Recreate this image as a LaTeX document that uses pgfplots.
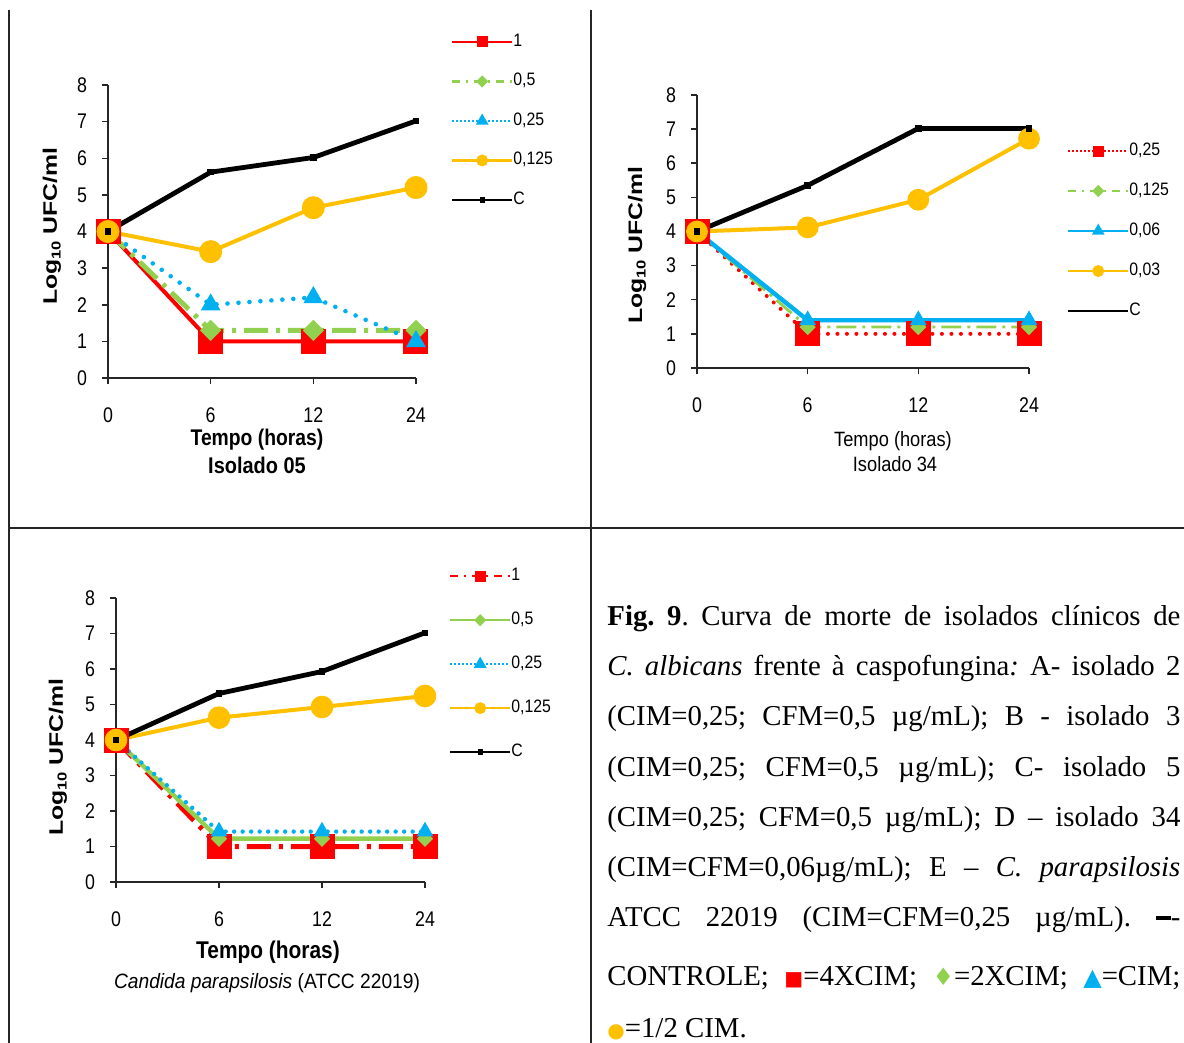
\documentclass[border=0pt]{standalone}
\usepackage{pgfplots}
\pgfplotsset{compat=1.18}
\usepackage{fontspec}
\usepackage{graphicx}
\setmainfont{Liberation Serif}
\newfontfamily\arial{Liberation Sans}
\newfontfamily\arialn[FakeStretch=0.88]{Liberation Sans}
\newfontfamily\arialt[FakeStretch=0.84]{Liberation Sans}
\newfontfamily\sym{DejaVu Sans}
\definecolor{cRed}{HTML}{FF0000}
\definecolor{cGreen}{HTML}{92D050}
\definecolor{cCyan}{HTML}{00B0F0}
\definecolor{cGold}{HTML}{FFC000}
\newcommand\tickfont{\arialt\fontsize{10.6}{11}\selectfont}

\pgfplotsset{
  kc/.style={
    scale only axis,
    xmin=0, xmax=3, ymin=0, ymax=8,
    axis x line*=bottom, axis y line*=left,
    axis line style={-, line width=0.75pt, black!85},
    xtick={0,1,2,3}, xticklabels={0,6,12,24},
    ytick={0,1,2,3,4,5,6,7,8},
    tick align=outside,
    major tick length=3pt,
    tick style={line width=0.75pt, black!85},
    /pgf/number format/assume math mode=true,
    tick label style={font=\tickfont},
    xticklabel style={font=\tickfont, anchor=center, yshift=-15.5pt},
    yticklabel style={font=\tickfont, anchor=center, xshift=-10pt},
    clip=false,
    legend style={draw=none, fill=none, inner sep=0pt, outer sep=0pt, anchor=north west,
       font=\arialn\fontsize{9}{9}\selectfont,
       nodes={inner sep=0pt, text height=6.5pt, text depth=2pt},
       /tikz/every even column/.append style={column sep=5pt}},
    legend cell align=left,
    legend image code/.code={\draw[mark repeat=2,mark phase=2] plot coordinates {(0pt,0pt) (15pt,0pt) (30pt,0pt)};},
  },
}

\begin{document}
\begin{tikzpicture}
\useasboundingbox (0pt,0pt) rectangle (592pt,-521.5pt);

% frame lines
\draw[line width=1.2pt, black!85] (4.5pt,-5pt) -- (4.5pt,-521.5pt);
\draw[line width=1.2pt, black!85] (295.5pt,-5pt) -- (295.5pt,-521.5pt);
\draw[line width=1.2pt, black!85] (4.5pt,-264pt) -- (592pt,-264pt);

% ---------------- Chart A: Isolado 05 ----------------
\begin{axis}[kc, at={(54pt,-189pt)}, anchor=origin, width=154pt, height=146.5pt,
  legend style={at={(rel axis cs:1.114,1.176)}, row sep=11.25pt}]
\addlegendimage{cRed, line width=1.1pt, mark=square*, mark size=2.2pt, mark options={solid}}
\addlegendentry{1}
\addlegendimage{cGreen, line width=1.1pt, dash pattern=on 4pt off 3pt on 1pt off 3pt, mark=square*, mark size=1.6pt, mark options={solid, rotate=45}}
\addlegendentry{0,5}
\addlegendimage{cCyan, line width=1.1pt, dash pattern=on 1pt off 1pt, mark=triangle*, mark size=2.6pt, mark options={solid}}
\addlegendentry{0,25}
\addlegendimage{cGold, line width=1.1pt, mark=*, mark size=2.4pt, mark options={solid}}
\addlegendentry{0,125}
\addlegendimage{black, line width=1.1pt, mark=square*, mark size=0.8pt, mark options={solid}}
\addlegendentry{C}

\addplot[cRed, line width=2pt, mark=square*, mark size=6pt, mark options={solid, line width=0.5pt}, forget plot]
  coordinates {(0,4) (1,1) (2,1) (3,1)};
\addplot[cGreen, line width=2.5pt, dash pattern=on 12pt off 4pt on 2pt off 4pt, mark=square*, mark size=3.5pt, mark options={solid, rotate=45, line width=0.5pt}, forget plot]
  coordinates {(0,4) (1,1.3) (2,1.3) (3,1.3)};
\addplot[cCyan, line width=2.3pt, line cap=round, dash pattern=on 0pt off 5.5pt, mark=triangle*, mark size=5.2pt, mark options={solid, line width=0.5pt}, forget plot]
  coordinates {(0,4) (1,2.0) (2,2.2) (3,1.0)};
\addplot[cGold, line width=2pt, mark=*, mark size=5.5pt, mark options={solid, line width=0.5pt}, forget plot]
  coordinates {(0,4) (1,3.45) (2,4.65) (3,5.2)};
\addplot[black, line width=2.4pt, mark=square*, mark size=1.4pt, mark options={solid, line width=0.5pt}, forget plot]
  coordinates {(0,4) (1,5.62) (2,6.02) (3,7.02)};
\end{axis}

\node[rotate=90, inner sep=0pt] at (26pt,-113pt) {\scalebox{1.27}[1]{\arial\bfseries\fontsize{9.75}{10}\selectfont Log\raisebox{-0.35ex}{\fontsize{6.5}{7}\selectfont 10} UFC/ml}};
\node[inner sep=0pt] at (128.5pt,-220pt) {\scalebox{0.92}[1.08]{\arial\bfseries\fontsize{10.5}{11}\selectfont Tempo (horas)}};
\node[inner sep=0pt] at (128.5pt,-232.5pt) {\scalebox{0.95}[1.08]{\arial\bfseries\fontsize{10.5}{11}\selectfont Isolado 05}};

% ---------------- Chart B: Isolado 34 ----------------
\begin{axis}[kc, at={(348.5pt,-184pt)}, anchor=origin, width=166pt, height=136.5pt,
  legend style={at={(rel axis cs:1.115,0.826)}, row sep=11.5pt}]
\addlegendimage{cRed, line width=1.1pt, dash pattern=on 1pt off 1pt, mark=square*, mark size=2.2pt, mark options={solid}}
\addlegendentry{0,25}
\addlegendimage{cGreen, line width=1.1pt, dash pattern=on 4pt off 3pt on 1pt off 3pt, mark=square*, mark size=1.6pt, mark options={solid, rotate=45}}
\addlegendentry{0,125}
\addlegendimage{cCyan, line width=1.1pt, mark=triangle*, mark size=2.6pt, mark options={solid}}
\addlegendentry{0,06}
\addlegendimage{cGold, line width=1.1pt, mark=*, mark size=2.4pt, mark options={solid}}
\addlegendentry{0,03}
\addlegendimage{black, line width=1.1pt}
\addlegendentry{C}

\addplot[cRed, line width=2pt, line cap=round, dash pattern=on 0pt off 4.75pt, mark=square*, mark size=6pt, mark options={solid, line width=0.5pt}, forget plot]
  coordinates {(0,4) (1,1) (2,1) (3,1)};
\addplot[cGreen, line width=1.4pt, dash pattern=on 10pt off 3pt on 1.5pt off 3pt, mark=square*, mark size=2.6pt, mark options={solid, rotate=45, line width=0.5pt}, forget plot]
  coordinates {(0,4) (1,1.2) (2,1.2) (3,1.2)};
\addplot[cCyan, line width=2.2pt, mark=triangle*, mark size=4.4pt, mark options={solid, line width=0.5pt}, forget plot]
  coordinates {(0,4) (1,1.4) (2,1.4) (3,1.4)};
\addplot[cGold, line width=2pt, mark=*, mark size=5.2pt, mark options={solid, line width=0.5pt}, forget plot]
  coordinates {(0,4) (1,4.12) (2,4.93) (3,6.72)};
\addplot[black, line width=2.4pt, mark=square*, mark size=1.4pt, mark options={solid, line width=0.5pt}, forget plot]
  coordinates {(0,4) (1,5.35) (2,7.02) (3,7.02)};
\end{axis}

\node[rotate=90, inner sep=0pt] at (318.5pt,-122.5pt) {\scalebox{1.27}[1]{\arial\bfseries\fontsize{9.75}{10}\selectfont Log\raisebox{-0.35ex}{\fontsize{6.5}{7}\selectfont 10} UFC/ml}};
\node[inner sep=0pt] at (446.5pt,-220.5pt) {\scalebox{0.95}[1.08]{\arial\fontsize{9.6}{10}\selectfont Tempo (horas)}};
\node[inner sep=0pt] at (447.5pt,-232pt) {\scalebox{0.95}[1.08]{\arial\fontsize{9.6}{10}\selectfont Isolado 34}};

% ---------------- Chart E: C. parapsilosis ----------------
\begin{axis}[kc, at={(58pt,-441pt)}, anchor=origin, width=154.5pt, height=142pt,
  legend style={at={(rel axis cs:1.078,1.107)}, row sep=13.5pt}]
\addlegendimage{cRed, line width=1.1pt, dash pattern=on 4pt off 3pt on 1pt off 3pt, mark=square*, mark size=2.2pt, mark options={solid}}
\addlegendentry{1}
\addlegendimage{cGreen, line width=1.1pt, mark=square*, mark size=1.6pt, mark options={solid, rotate=45}}
\addlegendentry{0,5}
\addlegendimage{cCyan, line width=1.1pt, dash pattern=on 1pt off 1pt, mark=triangle*, mark size=2.6pt, mark options={solid}}
\addlegendentry{0,25}
\addlegendimage{cGold, line width=1.1pt, mark=*, mark size=2.4pt, mark options={solid}}
\addlegendentry{0,125}
\addlegendimage{black, line width=1.1pt, mark=square*, mark size=0.8pt, mark options={solid}}
\addlegendentry{C}

\addplot[cRed, line width=2.5pt, dash pattern=on 12pt off 4pt on 2pt off 4pt, mark=square*, mark size=6pt, mark options={solid, line width=0.5pt}, forget plot]
  coordinates {(0,4) (1,1) (2,1) (3,1)};
\addplot[cGreen, line width=2.2pt, mark=square*, mark size=2.6pt, mark options={solid, rotate=45, line width=0.5pt}, forget plot]
  coordinates {(0,4) (1,1.22) (2,1.22) (3,1.22)};
\addplot[cCyan, line width=2.2pt, line cap=round, dash pattern=on 0pt off 4.25pt, mark=triangle*, mark size=4.4pt, mark options={solid, line width=0.5pt}, forget plot]
  coordinates {(0,4) (1,1.42) (2,1.42) (3,1.42)};
\addplot[cGold, line width=2pt, mark=*, mark size=5.4pt, mark options={solid, line width=0.5pt}, forget plot]
  coordinates {(0,4) (1,4.63) (2,4.93) (3,5.24)};
\addplot[black, line width=2.4pt, mark=square*, mark size=1.4pt, mark options={solid, line width=0.5pt}, forget plot]
  coordinates {(0,4) (1,5.31) (2,5.93) (3,7.02)};
\end{axis}

\node[rotate=90, inner sep=0pt] at (29pt,-378.5pt) {\scalebox{1.27}[1]{\arial\bfseries\fontsize{9.75}{10}\selectfont Log\raisebox{-0.35ex}{\fontsize{6.5}{7}\selectfont 10} UFC/ml}};
\node[inner sep=0pt] at (134pt,-476pt) {\scalebox{0.95}[1.1]{\arial\bfseries\fontsize{11}{12}\selectfont Tempo (horas)}};
\node[inner sep=0pt] at (133.5pt,-491.5pt) {\scalebox{1}[1.08]{\arial\fontsize{9.6}{10}\selectfont\textit{Candida parapsilosis} (ATCC 22019)}};

% ---------------- Caption text ----------------
\begin{scope}[every node/.style={anchor=base west, inner sep=0pt, font=\fontsize{14.4}{14}\selectfont}]
\frenchspacing
\node at (303.5pt,-312.5pt) {\makebox[286.5pt][s]{\textbf{Fig. 9}. Curva de morte de isolados clínicos de}};
\node at (303.5pt,-337.5pt) {\makebox[286.5pt][s]{\textit{C. albicans} frente à caspofungina\textit{:} A- isolado 2}};
\node at (303.5pt,-362.5pt) {\makebox[286.5pt][s]{(CIM=0,25; CFM=0,5 µg/mL); B - isolado 3}};
\node at (303.5pt,-388pt) {\makebox[286.5pt][s]{(CIM=0,25; CFM=0,5 µg/mL); C- isolado 5}};
\node at (303.5pt,-413pt) {\makebox[286.5pt][s]{(CIM=0,25; CFM=0,5 µg/mL); D – isolado 34}};
\node at (303.5pt,-438pt) {\makebox[286.5pt][s]{(CIM=CFM=0,06µg/mL); E – \textit{C. parapsilosis}}};
\node at (303.5pt,-463pt) {\makebox[286.5pt][s]{ATCC 22019 (CIM=CFM=0,25 µg/mL). \rule[0.22em]{7.5pt}{2pt}-}};
\node at (303.5pt,-492.5pt) {\makebox[286.5pt][s]{CONTROLE; {\sym\fontsize{10}{10}\selectfont\color{cRed}■}=4XCIM; {\sym\fontsize{12}{12}\selectfont\color{cGreen}♦}=2XCIM; {\sym\fontsize{12}{12}\selectfont\color{cCyan}▲}=CIM;}};
\node at (303.5pt,-518.5pt) {{\sym\fontsize{10}{10}\selectfont\color{cGold}●}=1/2 CIM.};
\end{scope}
\end{tikzpicture}
\end{document}
